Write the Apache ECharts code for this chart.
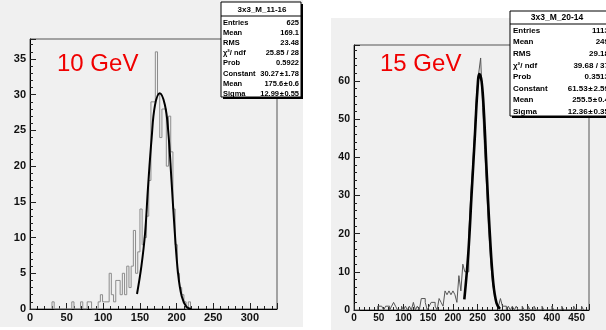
<!DOCTYPE html>
<html>
<head>
<meta charset="utf-8">
<script src="https://cdn.jsdelivr.net/npm/echarts@6/dist/echarts.min.js"></script>
<style>
  html, body { margin: 0; padding: 0; background: #fff; }
  #chart { width: 606px; height: 330px; }
</style>
</head>
<body>
<div id="chart"></div>
<script>
// 10 GeV: histogram bins (low edge), width 3
const leftBinWidth = 3
const leftBins = [30, 57, 69, 78, 81, 93, 96, 99, 102, 105,
  108, 111, 114, 117, 120, 123, 126, 129, 132, 135,
  138, 141, 144, 147, 150, 153, 156, 159, 162, 165,
  168, 171, 174, 177, 180, 183, 186, 189, 192, 195,
  198, 201, 204, 207, 210, 216]
const leftCounts = [1, 1, 1, 1, 1, 1, 2, 1, 1, 1,
  5, 2, 1, 4, 4, 2, 5, 2, 6, 3,
  6, 11, 5, 8, 14, 9, 10, 13, 18, 29,
  29, 36, 30, 24, 28, 28, 20, 27, 22, 14,
  9, 5, 3, 2, 1, 1]
// gaussian fit
const leftFitX = [146, 152, 157, 161, 166, 170.5, 177, 184, 188.5, 193, 197.5, 202, 207, 213.5, 220]
const leftFitY = [2.1, 6.0, 10.6, 17.0, 24.0, 28.5, 30.2, 28.6, 25.0, 18.1, 10.8, 5.0, 1.8, 0.3, 0]

// 15 GeV: histogram bins (low edge), width 4
const rightBinWidth = 4
const rightBins = [48, 52, 56, 64, 68, 76, 80, 84, 96, 104,
  112, 120, 128, 136, 140, 144, 152, 156, 160, 164,
  172, 176, 180, 184, 188, 192, 196, 200, 204, 208,
  212, 216, 220, 224, 228, 232, 236, 240, 244, 248,
  252, 256, 260, 264, 268, 272, 276, 280, 284, 288,
  292, 296, 300, 304, 312, 320, 328, 340, 352, 364,
  380, 400, 420, 444, 460]
const rightCounts = [1, 1, 1, 1, 1, 1, 2, 1, 1, 1,
  1, 2, 1, 3, 3, 2, 1, 2, 2, 1,
  3, 2, 1, 5, 4, 5, 4, 5, 4, 2,
  9, 5, 12, 10, 10, 20, 30, 38, 47, 57,
  62, 66, 53, 42, 32, 21, 13, 7, 4, 2,
  1, 3, 1, 1, 1, 1, 1, 1, 1, 1,
  1, 1, 1, 1, 1]
const rightFitX = [223, 231, 237.8, 244.5, 249.3, 253.3, 258, 262.7, 268, 274.9, 281.6, 288.3, 295]
const rightFitY = [2.8, 14.8, 30.6, 46.0, 57.2, 61.8, 59.8, 51.5, 36.7, 19.2, 7.0, 1.7, 0.3]

const leftStats = [
  ['Entries', '625'], ['Mean', '169.1'], ['RMS', '23.48'], ['χ²/ ndf', '25.85 / 28'],
  ['Prob', '0.5922'], ['Constant', '30.27\u200a±\u200a1.78'], ['Mean', '175.6\u200a±\u200a0.6'], ['Sigma', '12.99\u200a±\u200a0.55']
]
const rightStats = [
  ['Entries', '1113'], ['Mean', '249'], ['RMS', '29.18'], ['χ²/ ndf', '39.68 / 37'],
  ['Prob', '0.3513'], ['Constant', '61.53\u200a±\u200a2.59'], ['Mean', '255.5\u200a±\u200a0.4'], ['Sigma', '12.36\u200a±\u200a0.35']
]

// outline of a histogram for a step line
function stepPoints(bins, counts, w) {
  const pts = []
  for (let i = 0; i < bins.length; i++) {
    if (i === 0 || bins[i] - bins[i - 1] > w + 1e-9) {
      if (i > 0) pts.push([bins[i - 1] + w, 0])
      pts.push([bins[i], 0])
    }
    pts.push([bins[i], counts[i]])
  }
  pts.push([bins[bins.length - 1] + w, 0])
  return pts
}

function zip(xs, ys) {
  return xs.map((x, i) => [x, ys[i]])
}

const font = 'Liberation Sans, Arial, sans-serif'

function statsBox(o) {
  const els = [
    { type: 'rect', z: 100, shape: { x: o.x + 2, y: o.y + 2, width: o.w, height: o.h }, style: { fill: '#000' } },
    { type: 'rect', z: 101, shape: { x: o.x, y: o.y, width: o.w, height: o.h }, style: { fill: '#fff', stroke: '#000', lineWidth: 1 } },
    { type: 'line', z: 102, shape: { x1: o.x, y1: o.sepY, x2: o.x + o.w, y2: o.sepY }, style: { stroke: '#000', lineWidth: 1 } },
    { type: 'text', z: 102, x: o.titleX, y: o.titleY,
      style: { text: o.title, fill: '#000', font: 'bold ' + (o.fs + 0.5) + 'px ' + font, align: 'center', verticalAlign: 'middle' } }
  ]
  o.rows.forEach((r, i) => {
    const y = o.rowTop + i * o.rowStep
    els.push({ type: 'text', z: 102, x: o.labelX, y: y,
      style: { text: r[0], fill: '#000', font: 'bold ' + o.fs + 'px ' + font, align: 'left', verticalAlign: 'middle' } })
    els.push({ type: 'text', z: 102, x: o.valueX, y: y,
      style: { text: r[1], fill: '#000', font: 'bold ' + o.fs + 'px ' + font, align: 'right', verticalAlign: 'middle' } })
  })
  return els
}

function xAxisOf(idx, max, fs) {
  return {
    type: 'value', gridIndex: idx, min: 0, max: max, interval: 50,
    axisLine: { lineStyle: { color: '#000', width: 1 } },
    axisTick: { inside: true, length: 6, lineStyle: { color: '#222' } },
    minorTick: { show: true, splitNumber: 5, length: 3, lineStyle: { color: '#222' } },
    splitLine: { show: false },
    axisLabel: { showMaxLabel: false, margin: 3, color: '#111', fontSize: fs, fontWeight: 'bold', fontFamily: font }
  }
}

function yAxisOf(idx, max, interval, fs) {
  return {
    type: 'value', gridIndex: idx, min: 0, max: max, interval: interval,
    axisLine: { show: true, lineStyle: { color: '#000', width: 1 } },
    axisTick: { show: true, inside: true, length: 6, lineStyle: { color: '#222' } },
    minorTick: { show: true, splitNumber: 5, length: 3, lineStyle: { color: '#222' } },
    splitLine: { show: false },
    axisLabel: { showMaxLabel: false, margin: 4, color: '#111', fontSize: fs, fontWeight: 'bold', fontFamily: font }
  }
}

const chart = echarts.init(document.getElementById('chart'), null, { renderer: 'canvas' })

chart.setOption({
  animation: false,
  backgroundColor: '#fff',
  grid: [
    { left: 30, top: 39, width: 247, height: 270, show: true, borderColor: '#555', borderWidth: 1, backgroundColor: 'transparent' },
    { left: 354, top: 45, width: 235, height: 265, show: true, borderColor: '#555', borderWidth: 1, backgroundColor: 'transparent' }
  ],
  xAxis: [xAxisOf(0, 337, 11), xAxisOf(1, 475, 10)],
  yAxis: [yAxisOf(0, 37.8, 5, 11), yAxisOf(1, 69.4, 10, 10.5)],
  series: [
    { type: 'line', xAxisIndex: 0, yAxisIndex: 0, step: 'end', showSymbol: false, silent: true,
      data: stepPoints(leftBins, leftCounts, leftBinWidth), lineStyle: { color: '#8c8c8c', width: 1 } },
    { type: 'line', xAxisIndex: 0, yAxisIndex: 0, smooth: 0.4, showSymbol: false, silent: true,
      data: zip(leftFitX, leftFitY), lineStyle: { color: '#000', width: 2 } },
    { type: 'line', xAxisIndex: 1, yAxisIndex: 1, step: 'end', showSymbol: false, silent: true,
      data: stepPoints(rightBins, rightCounts, rightBinWidth), lineStyle: { color: '#555', width: 1 } },
    { type: 'line', xAxisIndex: 1, yAxisIndex: 1, smooth: 0.4, showSymbol: false, silent: true,
      data: zip(rightFitX, rightFitY), lineStyle: { color: '#000', width: 2.6 } }
  ],
  graphic: [
    { type: 'rect', z: -10, shape: { x: 0, y: 0, width: 303, height: 327 }, style: { fill: '#f0f0f0' } },
    { type: 'rect', z: -10, shape: { x: 331, y: 18, width: 275, height: 312 }, style: { fill: '#f0f0f0' } },
    { type: 'text', z: 50, x: 57, y: 64,
      style: { text: '10 GeV', fill: '#f00000', font: '24px ' + font, align: 'left', verticalAlign: 'middle' } },
    { type: 'text', z: 50, x: 380, y: 64,
      style: { text: '15 GeV', fill: '#f00000', font: '24px ' + font, align: 'left', verticalAlign: 'middle' } },
    ...statsBox({ x: 221, y: 2, w: 80, h: 95, sepY: 16, title: '3x3_M_11-16', titleX: 262, titleY: 9.5,
      rows: leftStats, rowTop: 23, rowStep: 10.1, labelX: 223, valueX: 299, fs: 7.5 }),
    ...statsBox({ x: 510, y: 11, w: 102, h: 105, sepY: 24, title: '3x3_M_20-14', titleX: 557, titleY: 17.5,
      rows: rightStats, rowTop: 30.5, rowStep: 11.6, labelX: 513, valueX: 609, fs: 8 })
  ]
})
</script>
</body>
</html>
